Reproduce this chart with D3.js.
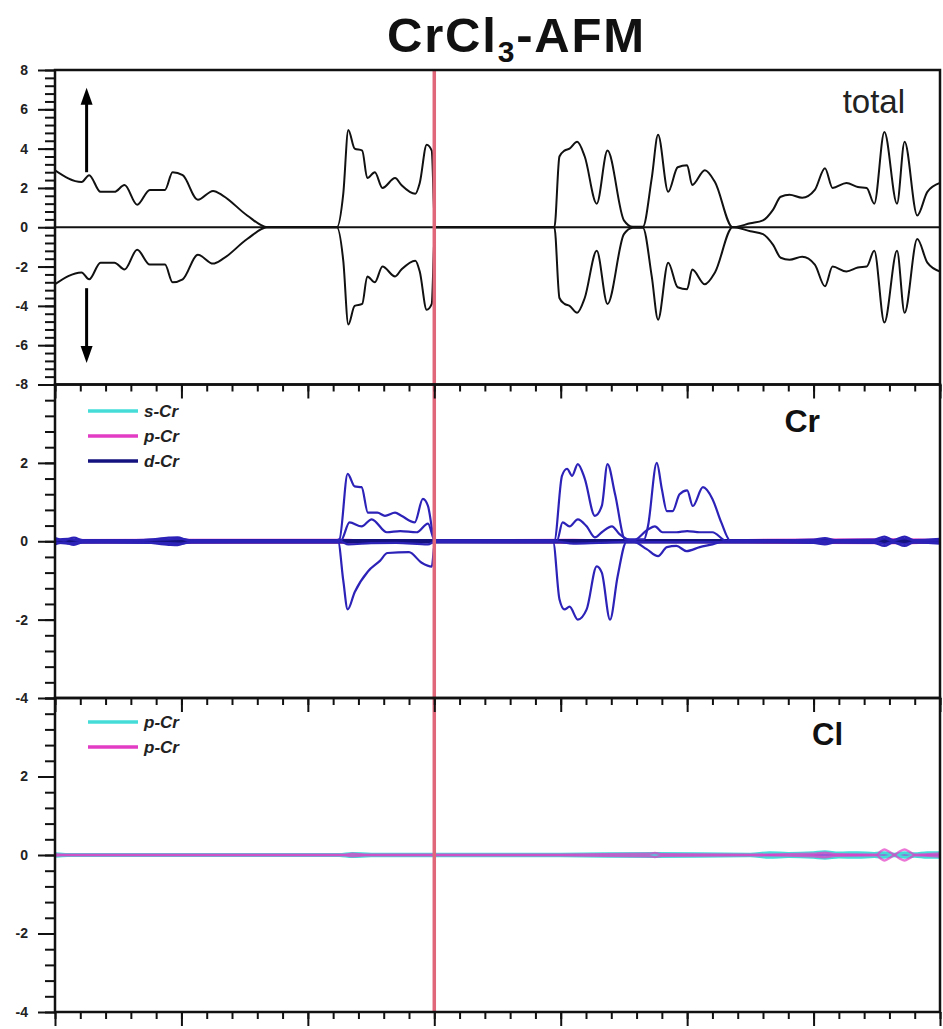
<!doctype html>
<html>
<head>
<meta charset="utf-8">
<script src="https://cdn.jsdelivr.net/npm/d3@7"></script>
<style>
  body { margin: 0; background: #fff; }
  svg { display: block; font-family: "Liberation Sans", Arial, sans-serif; }
</style>
</head>
<body>
<svg id="chart" width="943" height="1029"></svg>
<script>
// energy axis (eV), Fermi level at 0
var energyRange = [-3, 4];
var totalTicks = [8, 6, 4, 2, 0, -2, -4, -6, -8];
var pdosTicks = [2, 0, -2, -4];

// total DOS, spin up (spin down is the mirror image)
var totalUp = [
  [-3.00,2.9],[-2.79,2.3],[-2.73,2.65],[-2.64,1.8],[-2.53,1.8],[-2.45,2.15],[-2.35,1.15],[-2.25,1.9],
  [-2.13,1.9],[-2.07,2.8],[-1.99,2.65],[-1.87,1.4],[-1.75,1.85],[-1.67,1.6],[-1.48,0.6],[-1.32,0],
  [-0.77,0],[-0.72,1.7],[-0.68,4.95],[-0.63,4.0],[-0.57,3.9],[-0.53,2.5],[-0.47,2.8],[-0.41,2.0],
  [-0.31,2.5],[-0.26,2.15],[-0.15,1.7],[-0.115,2.25],[-0.06,4.2],[-0.02,3.9],[0.005,0],
  [0.95,0],[0.99,3.6],[1.03,3.9],[1.07,4.0],[1.13,4.35],[1.19,3.6],[1.285,1.2],[1.37,3.9],[1.5,0.35],
  [1.57,0.02],[1.65,0.02],[1.72,2.5],[1.77,4.7],[1.85,1.8],[1.925,3.05],[2.0,3.15],[2.04,2.15],
  [2.14,2.9],[2.22,2.3],[2.36,0],[2.5,0.2],[2.6,0.35],[2.68,0.9],[2.74,1.55],[2.81,1.65],[2.91,1.5],
  [3.01,1.9],[3.09,3.0],[3.15,2.0],[3.26,2.25],[3.35,2.05],[3.42,2.0],[3.48,1.2],[3.56,4.85],
  [3.66,1.2],[3.72,4.35],[3.82,0.6],[3.9,1.8],[4.0,2.25]
];

// Cr d states (two sublattices)
var dCrUpMajor = [
  [-3.0,0.08],[-2.93,0.03],[-2.85,0.09],[-2.78,0.03],[-2.6,0.02],[-2.3,0.03],[-2.1,0.09],[-2.03,0.1],
  [-1.95,0.03],[-1.5,0.02],[-0.78,0.02],[-0.75,0.05],[-0.685,1.72],[-0.63,1.4],[-0.575,1.38],
  [-0.525,0.73],[-0.45,0.73],[-0.39,0.65],[-0.31,0.73],[-0.26,0.65],[-0.155,0.48],[-0.09,1.08],
  [-0.05,0.9],[0.005,0.02],[0.95,0.02],[1.01,1.67],[1.05,1.85],[1.09,1.67],[1.135,1.97],[1.19,1.6],
  [1.27,0.65],[1.325,0.9],[1.37,1.97],[1.43,1.2],[1.51,0.05],[1.66,0.05],[1.69,0.38],[1.76,2.0],
  [1.8,1.33],[1.84,0.77],[1.885,0.77],[1.94,1.2],[2.0,1.3],[2.045,0.9],[2.125,1.38],[2.2,1.08],
  [2.27,0.48],[2.34,0.02],[2.7,0.02],[3.0,0.04],[3.09,0.08],[3.17,0.03],[3.48,0.04],[3.56,0.12],
  [3.63,0.03],[3.72,0.12],[3.79,0.03],[4.0,0.06]
];
var dCrUpMinor = [
  [-3.0,0.03],[-2.9,0.06],[-2.8,0.02],[-2.1,0.05],[-2.0,0.06],[-1.9,0.01],[-0.74,0.01],[-0.67,0.48],
  [-0.575,0.38],[-0.495,0.56],[-0.375,0.23],[-0.27,0.26],[-0.14,0.23],[-0.05,0.45],[0.005,0.01],
  [0.97,0.01],[1.015,0.48],[1.07,0.38],[1.135,0.56],[1.205,0.38],[1.27,0.1],[1.325,0.23],[1.405,0.38],
  [1.465,0.18],[1.57,0.01],[1.69,0.3],[1.745,0.38],[1.805,0.23],[1.915,0.23],[2.0,0.26],[2.1,0.23],
  [2.2,0.23],[2.31,0.01],[3.5,0.02],[3.56,0.07],[3.62,0.02],[3.72,0.07],[3.8,0.02],[4.0,0.03]
];
var dCrDnMajor = [
  [-3.0,-0.08],[-2.93,-0.03],[-2.85,-0.09],[-2.78,-0.03],[-2.6,-0.02],[-2.3,-0.03],[-2.1,-0.09],
  [-2.03,-0.1],[-1.95,-0.03],[-1.5,-0.02],[-0.76,-0.02],[-0.72,-1.0],[-0.685,-1.74],[-0.63,-1.3],
  [-0.525,-0.77],[-0.43,-0.5],[-0.37,-0.3],[-0.2,-0.28],[-0.1,-0.55],[-0.02,-0.65],[0.005,-0.02],
  [0.94,-0.02],[0.99,-1.48],[1.03,-1.74],[1.07,-1.67],[1.135,-2.0],[1.205,-1.74],[1.285,-0.64],
  [1.325,-0.8],[1.39,-2.0],[1.45,-0.9],[1.52,-0.02],[2.7,-0.02],[3.0,-0.04],[3.09,-0.08],[3.17,-0.03],
  [3.48,-0.04],[3.56,-0.12],[3.63,-0.03],[3.72,-0.12],[3.79,-0.03],[4.0,-0.06]
];
var dCrDnMinor = [
  [-3.0,-0.03],[-2.9,-0.06],[-2.8,-0.02],[-2.1,-0.05],[-2.0,-0.06],[-1.9,-0.01],[-0.74,-0.01],
  [-0.68,-0.08],[-0.5,-0.05],[-0.3,-0.04],[-0.05,-0.08],[0.005,-0.01],[0.97,-0.01],[1.1,-0.06],
  [1.3,-0.04],[1.57,-0.01],[1.68,-0.2],[1.77,-0.38],[1.84,-0.15],[1.915,-0.12],[1.995,-0.25],
  [2.1,-0.15],[2.2,-0.08],[2.28,-0.01],[3.5,-0.02],[3.56,-0.07],[3.62,-0.02],[3.72,-0.07],
  [3.8,-0.02],[4.0,-0.03]
];
// Cr s and p states (tiny)
var sCr = [[-3,0.02],[-0.7,0.03],[-0.6,0.01],[1.0,0.03],[1.4,0.01],[3.0,0.03],[4.0,0.02]];
var pCr = [[-3,0.03],[-0.68,0.04],[-0.5,0.01],[1.1,0.04],[1.4,0.02],[3.56,0.05],[3.72,0.05],[4.0,0.03]];

// Cl p states (two curves, mirrored)
var clCyan = [
  [-3,0.03],[-2.9,0.01],[-0.75,0.01],[-0.65,0.04],[-0.5,0.02],[-0.1,0.02],[1.0,0.02],[1.74,0.04],
  [2.5,0.02],[2.65,0.06],[2.8,0.04],[3.0,0.06],[3.09,0.08],[3.2,0.05],[3.35,0.06],[3.48,0.04],
  [3.56,0.06],[3.64,0.02],[3.72,0.06],[3.8,0.03],[3.9,0.06],[4.0,0.06]
];
var clMagenta = [
  [-3,0.02],[-2.95,0.01],[-0.7,0.01],[-0.65,0.03],[-0.55,0.01],[1.0,0.01],[1.7,0.03],[1.745,0.05],
  [1.8,0.02],[2.5,0.01],[3.0,0.03],[3.09,0.06],[3.17,0.02],[3.5,0.01],[3.53,0.09],[3.56,0.14],
  [3.6,0.08],[3.64,0.01],[3.68,0.09],[3.72,0.14],[3.76,0.08],[3.8,0.01],[4.0,0.04]
];

var legendCr = ["s-Cr", "p-Cr", "d-Cr"];
var legendCl = ["p-Cr", "p-Cr"];

var cCyan = "#45dcd8", cMag = "#e23cc4", cNavy = "#14127e", cD = "#2c22b8";

var svg = d3.select("#chart");
var left = 55, right = 940;
var x = d3.scaleLinear().domain(energyRange).range([left, right]);

var panels = [
  { top: 70, bottom: 384.5, domain: [-8, 8], ticks: totalTicks },
  { top: 384.5, bottom: 698, domain: [-4, 4], ticks: pdosTicks },
  { top: 698, bottom: 1012, domain: [-4, 4], ticks: pdosTicks }
];
panels.forEach(function(p, i) {
  p.y = d3.scaleLinear().domain(p.domain).range([p.bottom, p.top]);
  svg.append("clipPath").attr("id", "clip" + i)
    .append("rect").attr("x", left).attr("y", p.top).attr("width", right - left).attr("height", p.bottom - p.top);
  p.g = svg.append("g").attr("clip-path", "url(#clip" + i + ")");
});

function neg(arr) { return arr.map(function(d) { return [d[0], -d[1]]; }); }
function drawLine(p, data, color, w, op) {
  var line = d3.line().x(function(d) { return x(d[0]); }).y(function(d) { return p.y(d[1]); })
    .curve(d3.curveMonotoneX);
  p.g.append("path").datum(data).attr("d", line).attr("fill", "none")
    .attr("stroke", color).attr("stroke-width", w).attr("stroke-linejoin", "round")
    .attr("opacity", op == null ? 1 : op);
}

// top panel: total
var P0 = panels[0], P1 = panels[1], P2 = panels[2];
P0.g.append("line").attr("x1", left).attr("x2", right).attr("y1", P0.y(0)).attr("y2", P0.y(0))
  .attr("stroke", "#111").attr("stroke-width", 2.2);
drawLine(P0, totalUp, "#111", 2);
drawLine(P0, neg(totalUp), "#111", 2);

// spin arrows
function arrow(xv, from, to) {
  var x0 = x(xv), y0 = P0.y(from), y1 = P0.y(to), dir = y1 < y0 ? 1 : -1;
  svg.append("line").attr("x1", x0).attr("x2", x0).attr("y1", y0).attr("y2", y1 + dir * 10)
    .attr("stroke", "#000").attr("stroke-width", 3);
  svg.append("path").attr("d", "M" + (x0 - 6) + "," + (y1 + dir * 17) + "L" + x0 + "," + y1 + "L" + (x0 + 6) + "," + (y1 + dir * 17) + "Z")
    .attr("fill", "#000");
}
arrow(-2.75, 2.8, 7.1);
arrow(-2.75, -3.1, -6.9);

// middle panel: Cr
drawLine(P1, sCr, cCyan, 2);
drawLine(P1, neg(sCr), cCyan, 2);
drawLine(P1, pCr, cMag, 2);
drawLine(P1, neg(pCr), cMag, 2);
P1.g.append("line").attr("x1", left).attr("x2", right).attr("y1", P1.y(0)).attr("y2", P1.y(0))
  .attr("stroke", cNavy).attr("stroke-width", 4.5);
[dCrUpMajor, dCrUpMinor, dCrDnMajor, dCrDnMinor].forEach(function(s) { drawLine(P1, s, cD, 2.2); });

// bottom panel: Cl
P2.g.append("line").attr("x1", left).attr("x2", right).attr("y1", P2.y(0)).attr("y2", P2.y(0))
  .attr("stroke", "#9a5cd6").attr("stroke-width", 3.5);
drawLine(P2, clCyan, cCyan, 3);
drawLine(P2, neg(clCyan), cCyan, 3);
drawLine(P2, clMagenta, cMag, 2.4, 0.7);
drawLine(P2, neg(clMagenta), cMag, 2.4, 0.7);

// Fermi level
svg.append("line").attr("x1", x(0)).attr("x2", x(0)).attr("y1", 70).attr("y2", 1012)
  .attr("stroke", "#e0667a").attr("stroke-width", 3.5);

// axes
panels.forEach(function(p, i) {
  var yAxis = d3.axisLeft(p.y).tickValues(d3.range(p.domain[0], p.domain[1] + 0.001, 0.4))
    .tickSize(10).tickFormat("");
  svg.append("g").attr("transform", "translate(" + left + ",0)").call(yAxis)
    .call(function(g) { g.select(".domain").remove(); g.selectAll("line").attr("stroke", "#111").attr("stroke-width", 2); });
  var yMajor = d3.axisLeft(p.y).tickValues(p.ticks).tickSize(17).tickPadding(10)
    .tickFormat(function(d) { return d; });
  svg.append("g").attr("transform", "translate(" + left + ",0)").call(yMajor)
    .call(function(g) {
      g.select(".domain").remove();
      g.selectAll("line").attr("stroke", "#111").attr("stroke-width", 2);
      g.selectAll("text").attr("font-size", 14).attr("font-weight", "bold").attr("fill", "#222")
        .attr("font-family", "Liberation Sans, Arial, sans-serif");
    });
  var xMinor = d3.axisBottom(x).tickValues(d3.range(-3, 4.001, 0.2)).tickSize(7).tickFormat("");
  svg.append("g").attr("transform", "translate(0," + p.bottom + ")").call(xMinor)
    .call(function(g) { g.select(".domain").remove(); g.selectAll("line").attr("stroke", "#111").attr("stroke-width", 2); });
  var xMajor = d3.axisBottom(x).tickValues(d3.range(-3, 4.001, 1)).tickSize(14).tickFormat("");
  svg.append("g").attr("transform", "translate(0," + p.bottom + ")").call(xMajor)
    .call(function(g) { g.select(".domain").remove(); g.selectAll("line").attr("stroke", "#111").attr("stroke-width", 2); });
  svg.append("rect").attr("x", left).attr("y", p.top).attr("width", right - left).attr("height", p.bottom - p.top)
    .attr("fill", "none").attr("stroke", "#111").attr("stroke-width", 2.5);
});

// labels
var title = svg.append("text").attr("x", 387).attr("y", 52).attr("font-size", 49).attr("font-weight", "bold")
  .attr("letter-spacing", 1.8).attr("fill", "#111");
title.append("tspan").text("CrCl");
title.append("tspan").attr("font-size", 30).attr("dy", 10).text("3");
title.append("tspan").attr("dy", -10).text("-AFM");

svg.append("text").attr("x", 905).attr("y", 113).attr("text-anchor", "end").attr("font-size", 33)
  .attr("fill", "#222").text("total");
svg.append("text").attr("x", 820).attr("y", 432).attr("text-anchor", "end").attr("font-size", 32)
  .attr("font-weight", "bold").attr("fill", "#111").text("Cr");
svg.append("text").attr("x", 843).attr("y", 745).attr("text-anchor", "end").attr("font-size", 31)
  .attr("font-weight", "bold").attr("fill", "#111").text("Cl");

function legend(names, colors, y0) {
  names.forEach(function(n, i) {
    var yy = y0 + i * 25;
    svg.append("line").attr("x1", 88).attr("x2", 138).attr("y1", yy).attr("y2", yy)
      .attr("stroke", colors[i]).attr("stroke-width", 3.5);
    svg.append("text").attr("x", 144).attr("y", yy + 6).attr("font-size", 17).attr("font-weight", "bold")
      .attr("font-style", "italic").attr("fill", "#222").text(n);
  });
}
legend(legendCr, [cCyan, cMag, cNavy], 411);
legend(legendCl, [cCyan, cMag], 722);
</script>
</body>
</html>
